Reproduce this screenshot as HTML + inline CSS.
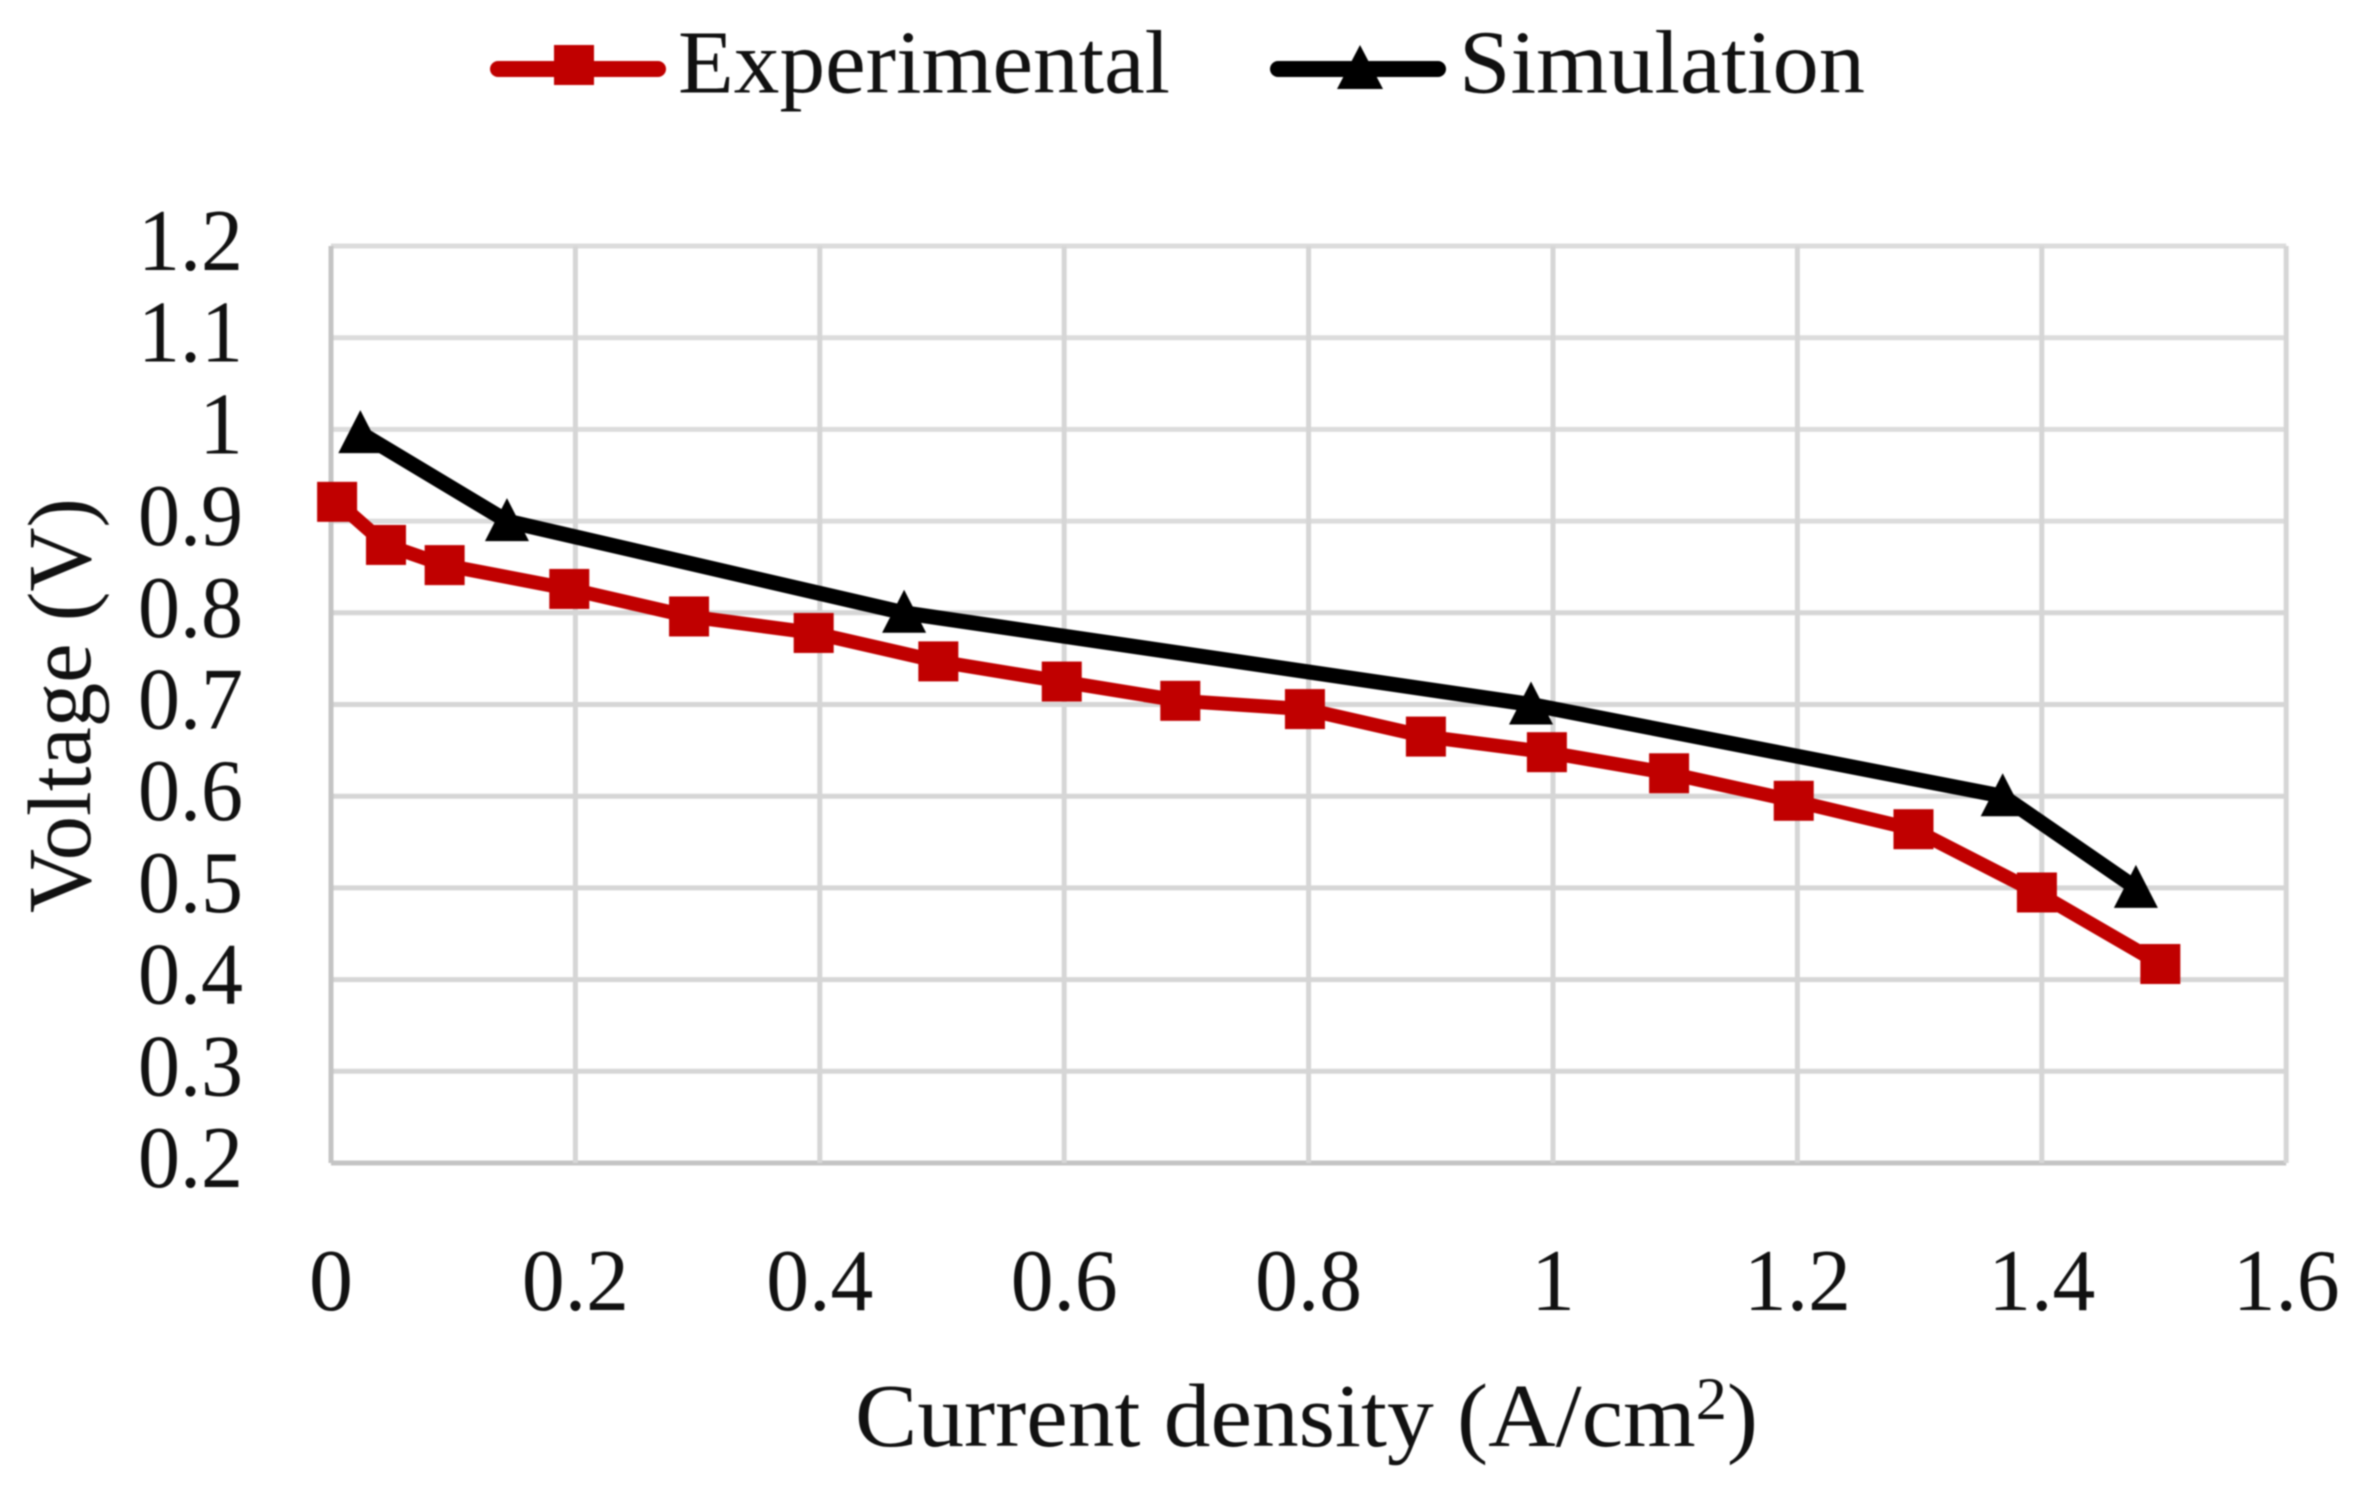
<!DOCTYPE html>
<html lang="en">
<head>
<meta charset="utf-8">
<title>Voltage vs current density</title>
<style>
html,body{margin:0;padding:0;background:#fff;width:2368px;height:1488px;overflow:hidden}
svg{display:block;filter:blur(0.7px)}
text{font-family:"Liberation Serif",serif;fill:#111}
</style>
</head>
<body>
<svg id="chart" xmlns="http://www.w3.org/2000/svg" width="2368" height="1488" viewBox="0 0 2368 1488">
  <rect x="0" y="0" width="2368" height="1488" fill="#ffffff"/>
  <g id="grid"></g>
  <g id="ticks"></g>
  <g id="series"></g>

  <g>
    <g>
      <line x1="498" y1="69" x2="658" y2="69" stroke="#C00000" stroke-width="16" stroke-linecap="round"/>
      <rect x="554" y="45" width="40" height="40" fill="#C00000"/>
      <text x="678" y="92.5" font-size="90" textLength="492" lengthAdjust="spacingAndGlyphs">Experimental</text>
    </g>
    <g>
      <line x1="1278" y1="69" x2="1438" y2="69" stroke="#000000" stroke-width="16" stroke-linecap="round"/>
      <polygon points="1360,45 1383,89 1337,89" fill="#000000"/>
      <text x="1459" y="92.5" font-size="90" textLength="406" lengthAdjust="spacingAndGlyphs">Simulation</text>
    </g>
  </g>

  <text x="855" y="1446" font-size="90" textLength="903" lengthAdjust="spacingAndGlyphs">Current density (A/cm<tspan font-size="60" dy="-27">2</tspan><tspan dy="27">)</tspan></text>
  <text transform="translate(90,705.5) rotate(-90)" text-anchor="middle" font-size="90" textLength="415" lengthAdjust="spacingAndGlyphs">Voltage (V)</text>
</svg>

<script>
const xTicks = [0, 0.2, 0.4, 0.6, 0.8, 1, 1.2, 1.4, 1.6];
const xTickLabels = ["0", "0.2", "0.4", "0.6", "0.8", "1", "1.2", "1.4", "1.6"];
const yTicks = [1.2, 1.1, 1, 0.9, 0.8, 0.7, 0.6, 0.5, 0.4, 0.3, 0.2];
const yTickLabels = ["1.2", "1.1", "1", "0.9", "0.8", "0.7", "0.6", "0.5", "0.4", "0.3", "0.2"];
const experimentalX = [0.005, 0.045, 0.093, 0.195, 0.293, 0.395, 0.497, 0.598, 0.695, 0.797, 0.896, 0.995, 1.095, 1.197, 1.295, 1.396, 1.497];
const experimentalY = [0.921, 0.874, 0.852, 0.826, 0.796, 0.778, 0.747, 0.725, 0.704, 0.695, 0.665, 0.648, 0.625, 0.595, 0.564, 0.495, 0.417];
const simulationX = [0.024, 0.144, 0.469, 0.982, 1.368, 1.477];
const simulationY = [0.996, 0.9, 0.8, 0.7, 0.6, 0.5];

const NS = "http://www.w3.org/2000/svg";
function xScale(v) { return 331 + v * 1222; }
function yScale(v) { return 1163 - (v - 0.2) * 917; }
function make(tag, attrs, parent) {
  const el = document.createElementNS(NS, tag);
  for (const k in attrs) el.setAttribute(k, attrs[k]);
  parent.appendChild(el);
  return el;
}
const gridG = document.getElementById("grid");
const ticksG = document.getElementById("ticks");
const seriesG = document.getElementById("series");

yTicks.forEach(function (t, i) {
  const isAxis = t === 0.2;
  const lineColor = isAxis ? "#c4c4c4" : (t >= 0.9 ? "#dcdcdc" : "#d6d6d6");
  const line = make("line", {x1: xScale(0), x2: xScale(1.6), y1: yScale(t), y2: yScale(t), stroke: lineColor, "stroke-width": 5}, gridG);
  
  
  const label = make("text", {x: 243, y: yScale(t) + 24, "text-anchor": "end", "font-size": 88}, ticksG);
  label.textContent = yTickLabels[i];
  if (yTickLabels[i].length === 3) {
    label.setAttribute("textLength", 105);
    label.setAttribute("lengthAdjust", "spacingAndGlyphs");
  }
  
  
});

xTicks.forEach(function (t, i) {
  const isAxis = t === 0;
  const line = make("line", {x1: xScale(t), x2: xScale(t), y1: yScale(1.2), y2: yScale(0.2), stroke: isAxis ? "#c4c4c4" : "#d6d6d6", "stroke-width": 5}, gridG);
  
  
  const label = make("text", {x: xScale(t), y: 1310, "text-anchor": "middle", "font-size": 88}, ticksG);
  label.textContent = xTickLabels[i];
  if (xTickLabels[i].length === 3) {
    label.setAttribute("textLength", 107);
    label.setAttribute("lengthAdjust", "spacingAndGlyphs");
  }
  
  
});

function pointsOf(xs, ys) {
  return xs.map(function (x, i) { return xScale(x) + "," + yScale(ys[i]); }).join(" ");
}

const expLine = make("polyline", {points: pointsOf(experimentalX, experimentalY), fill: "none", stroke: "#C00000", "stroke-width": 14, "stroke-linejoin": "round"}, seriesG);


experimentalX.forEach(function (x, i) {
  const cx = xScale(x), cy = yScale(experimentalY[i]);
  const m = make("rect", {x: cx - 20, y: cy - 20, width: 40, height: 40, fill: "#C00000"}, seriesG);
  
  
});

const simLine = make("polyline", {points: pointsOf(simulationX, simulationY), fill: "none", stroke: "#000000", "stroke-width": 15, "stroke-linejoin": "round"}, seriesG);


simulationX.forEach(function (x, i) {
  const cx = xScale(x), cy = yScale(simulationY[i]);
  const m = make("polygon", {points: cx + "," + (cy - 23) + " " + (cx + 22) + "," + (cy + 20) + " " + (cx - 22) + "," + (cy + 20), fill: "#000000"}, seriesG);
  
  
});
</script>
</body>
</html>
